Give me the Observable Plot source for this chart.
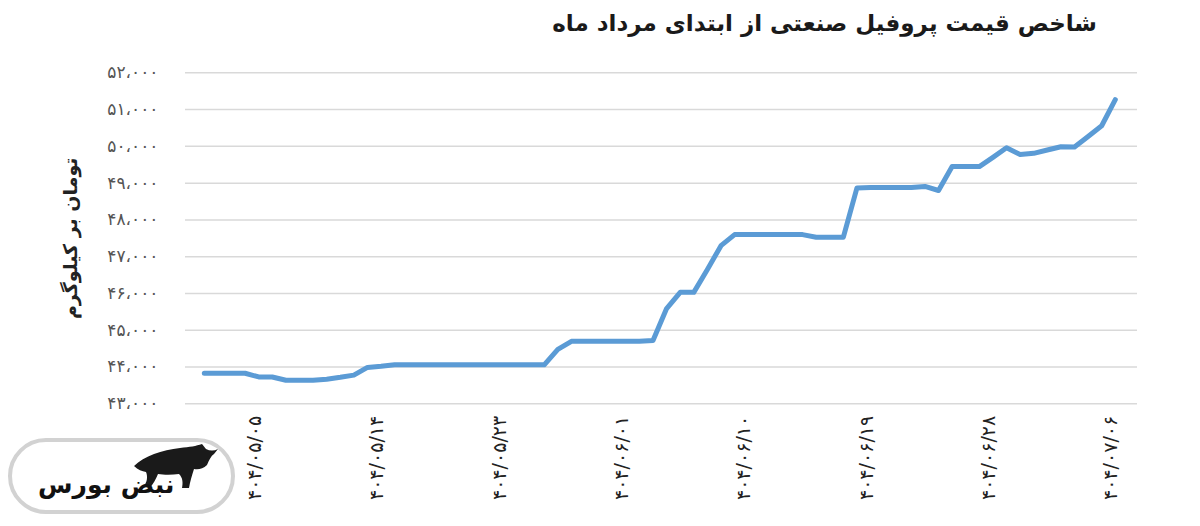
<!DOCTYPE html>
<html>
<head>
<meta charset="utf-8">
<script src="https://cdn.jsdelivr.net/npm/d3@7"></script>
<script src="https://cdn.jsdelivr.net/npm/@observablehq/plot@0.6"></script>
<style>
  html, body { margin: 0; padding: 0; background: #fff; }
  body { width: 1200px; height: 526px; position: relative; overflow: hidden; font-family: "DejaVu Sans", sans-serif; }
  #title { height: 50px; position: relative; }
  #title span { position: absolute; right: 103px; top: 10px; font-size: 23px; font-weight: bold; color: #1a1a1a; direction: rtl; white-space: nowrap; }
  #chart svg { display: block; }
  #logo { position: absolute; left: 8px; top: 438px; width: 219px; height: 68px; border: 4px solid #d2d2d2; border-radius: 38px; background: #fff; }
  #logo .txt { position: absolute; left: 26px; top: 28px; font-size: 25px; font-weight: bold; color: #111; direction: rtl; white-space: nowrap; }
  #logo svg { position: absolute; left: 0; top: 0; }
</style>
</head>
<body>
<div id="title"><span>شاخص قیمت پروفیل صنعتی از ابتدای مرداد ماه</span></div>
<div id="chart"></div>
<div id="logo">
  <svg width="219" height="68" viewBox="0 0 219 68">
    <path d="M122,24 C132,14 150,8 168,6 C178,5 184,4 190,2 L194,7 C198,9 202,9 206,7 L202,12 C199,14 197,18 195,23 C191,27 186,28 182,27 C180,33 178,40 177,46 L170,46 C171,41 171,36 167,32 C160,33 152,33 146,32 C144,37 141,42 138,46 L132,44 C135,40 136,35 134,30 C130,29 126,28 122,24 Z" fill="#1a1a1a"/>
  </svg>
  <span class="txt">نبض بورس</span>
</div>
<script>
// ---- data ----
const days = [
  "۴۰۴/۰۵/۰۱","۴۰۴/۰۵/۰۲","۴۰۴/۰۵/۰۳","۴۰۴/۰۵/۰۴","۴۰۴/۰۵/۰۵","۴۰۴/۰۵/۰۶","۴۰۴/۰۵/۰۷","۴۰۴/۰۵/۰۸","۴۰۴/۰۵/۰۹","۴۰۴/۰۵/۱۰",
  "۴۰۴/۰۵/۱۱","۴۰۴/۰۵/۱۲","۴۰۴/۰۵/۱۳","۴۰۴/۰۵/۱۴","۴۰۴/۰۵/۱۵","۴۰۴/۰۵/۱۶","۴۰۴/۰۵/۱۷","۴۰۴/۰۵/۱۸","۴۰۴/۰۵/۱۹","۴۰۴/۰۵/۲۰",
  "۴۰۴/۰۵/۲۱","۴۰۴/۰۵/۲۲","۴۰۴/۰۵/۲۳","۴۰۴/۰۵/۲۴","۴۰۴/۰۵/۲۵","۴۰۴/۰۵/۲۶","۴۰۴/۰۵/۲۷","۴۰۴/۰۵/۲۸","۴۰۴/۰۵/۲۹","۴۰۴/۰۵/۳۰",
  "۴۰۴/۰۵/۳۱","۴۰۴/۰۶/۰۱","۴۰۴/۰۶/۰۲","۴۰۴/۰۶/۰۳","۴۰۴/۰۶/۰۴","۴۰۴/۰۶/۰۵","۴۰۴/۰۶/۰۶","۴۰۴/۰۶/۰۷","۴۰۴/۰۶/۰۸","۴۰۴/۰۶/۰۹",
  "۴۰۴/۰۶/۱۰","۴۰۴/۰۶/۱۱","۴۰۴/۰۶/۱۲","۴۰۴/۰۶/۱۳","۴۰۴/۰۶/۱۴","۴۰۴/۰۶/۱۵","۴۰۴/۰۶/۱۶","۴۰۴/۰۶/۱۷","۴۰۴/۰۶/۱۸","۴۰۴/۰۶/۱۹",
  "۴۰۴/۰۶/۲۰","۴۰۴/۰۶/۲۱","۴۰۴/۰۶/۲۲","۴۰۴/۰۶/۲۳","۴۰۴/۰۶/۲۴","۴۰۴/۰۶/۲۵","۴۰۴/۰۶/۲۶","۴۰۴/۰۶/۲۷","۴۰۴/۰۶/۲۸","۴۰۴/۰۶/۲۹",
  "۴۰۴/۰۶/۳۰","۴۰۴/۰۶/۳۱","۴۰۴/۰۷/۰۱","۴۰۴/۰۷/۰۲","۴۰۴/۰۷/۰۳","۴۰۴/۰۷/۰۴","۴۰۴/۰۷/۰۵","۴۰۴/۰۷/۰۶"
];
const values = [
  43830, 43830, 43830, 43830, 43730, 43730, 43640, 43640, 43640, 43670,
  43720, 43780, 43990, 44020, 44060, 44060, 44060, 44060, 44060, 44060,
  44060, 44060, 44060, 44060, 44060, 44060, 44480, 44700, 44700, 44700,
  44700, 44700, 44700, 44720, 45590, 46030, 46030, 46650, 47300, 47600,
  47600, 47600, 47600, 47600, 47600, 47530, 47530, 47530, 48870, 48880,
  48880, 48880, 48880, 48910, 48800, 49450, 49450, 49450, 49700, 49960,
  49780, 49810, 49900, 49990, 49980, 50270, 50560, 51270
];
const xTickLabels = ["۴۰۴/۰۵/۰۵","۴۰۴/۰۵/۱۴","۴۰۴/۰۵/۲۳","۴۰۴/۰۶/۰۱","۴۰۴/۰۶/۱۰","۴۰۴/۰۶/۱۹","۴۰۴/۰۶/۲۸","۴۰۴/۰۷/۰۶"];
const yTicks = [43000, 44000, 45000, 46000, 47000, 48000, 49000, 50000, 51000, 52000];
const yTickLabels = ["۴۳،۰۰۰","۴۴،۰۰۰","۴۵،۰۰۰","۴۶،۰۰۰","۴۷،۰۰۰","۴۸،۰۰۰","۴۹،۰۰۰","۵۰،۰۰۰","۵۱،۰۰۰","۵۲،۰۰۰"];
const yTitle = "تومان بر کیلوگرم";

const data = days.map((d, i) => ({date: d, value: values[i]}));

const W = 1200, H = 476;
const chart = Plot.plot({
  width: W,
  height: H,
  marginLeft: 185,
  marginRight: 63,
  marginTop: 22.3,
  marginBottom: 122.7,
  style: {fontFamily: "DejaVu Sans, sans-serif", background: "#fff", overflow: "visible"},
  x: {type: "point", domain: days, range: [197, 1121.6]},
  y: {domain: [43000, 52000]},
  marks: [
    Plot.gridY(yTicks, {stroke: "#d9d9d9", strokeOpacity: 1, strokeWidth: 1.5}),
    Plot.axisY({ticks: yTicks, tickSize: 0, tickPadding: 27, fontSize: 17, fill: "#555",
      tickFormat: d => yTickLabels[yTicks.indexOf(d)], label: null}),
    Plot.axisX({ticks: xTickLabels, tickSize: 0, tickPadding: 12, tickRotate: -90, fontSize: 19, fill: "#222", dx: -4, label: null}),
    Plot.text([yTitle], {frameAnchor: "left", dx: -115, rotate: -90, textAnchor: "middle", fontSize: 19, fontWeight: "bold", fill: "#222"}),
    Plot.line(data, {x: "date", y: "value", stroke: "#5b9bd5", strokeWidth: 5, strokeLinejoin: "round", strokeLinecap: "round"})
  ]
});
document.getElementById("chart").appendChild(chart);
</script>
</body>
</html>
